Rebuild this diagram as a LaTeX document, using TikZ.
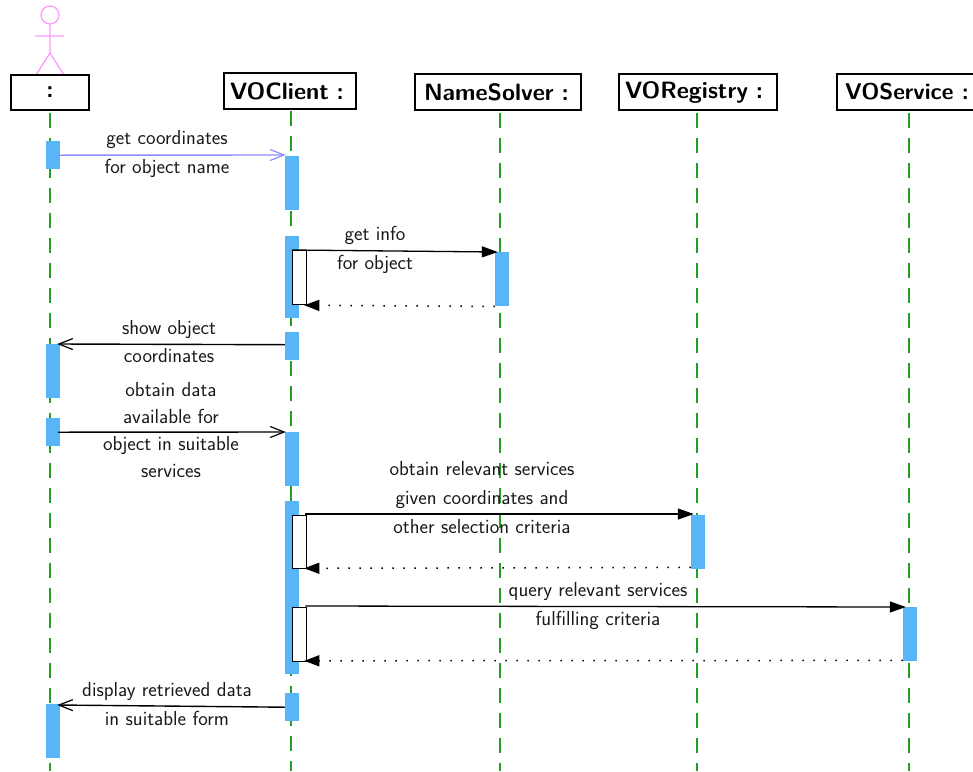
\documentclass[tikz,border=0pt]{standalone}
\usepackage{fontspec}
\setsansfont{Latin Modern Sans}
\usetikzlibrary{arrows.meta}
\definecolor{lifeg}{HTML}{22A022}
\definecolor{barb}{HTML}{58B6F8}
\definecolor{actorp}{HTML}{FF99FF}
\definecolor{msgb}{HTML}{8C8CFF}
\tikzset{
  x=1pt,y=-1pt,
  head/.style={draw=black,line width=1.2pt,fill=white,inner sep=0,font=\sffamily\bfseries\fontsize{23.6}{26}\selectfont,text=black},
  lifeline/.style={draw=lifeg,line width=1.2pt,dash pattern=on 15pt off 10pt},
  actbar/.style={fill=barb,draw=none,inner sep=0,minimum width=14pt,anchor=north},
  selfbar/.style={fill=white,draw=black,line width=1.3pt,inner sep=0,minimum width=14pt,anchor=north west},
  msg/.style={draw=black,line width=1.3pt,-{Triangle[length=16pt,width=11pt]},shorten >=-3pt},
  retmsg/.style={draw=black,line width=1.5pt,dash pattern=on 1.5pt off 9.5pt,-{Triangle[length=15pt,width=11pt]},shorten >=-3pt},
  openmsg/.style={line width=1.4pt,-{Straight Barb[length=14pt,width=11pt,line width=1.2pt]}},
  lab/.style={font=\sffamily\fontsize{20.3}{22}\selectfont,text=black!90,inner sep=0,text height=15pt,text depth=3pt}
}
\begin{document}
\begin{tikzpicture}
\useasboundingbox (0,0) rectangle (973,771);
% actor
\node[circle,draw=actorp,line width=1.3pt,minimum size=18pt,inner sep=0] (ahead) at (50,15) {};
\coordinate (aneck) at (50,53);
\coordinate (larm) at (35,36);
\coordinate (rarm) at (64,36);
\coordinate (lleg) at (36,75);
\coordinate (rleg) at (64,75);
\draw[actorp,line width=1.3pt] (ahead.south) -- (aneck) (larm) -- (rarm) (lleg) -- (aneck) -- (rleg);
% heads
\node[head,minimum width=78pt,minimum height=35pt] (hA) at (50,92.5) {:};
\node[head,minimum width=132pt,minimum height=36pt,text width=120pt,align=left] (hC) at (290,91) {VOClient :};
\node[head,minimum width=166pt,minimum height=36pt,text width=148pt,align=left] (hN) at (498,92) {NameSolver :};
\node[head,minimum width=158pt,minimum height=36pt,text width=146pt,align=left] (hR) at (698,92) {VORegistry :};
\node[head,minimum width=140pt,minimum height=36pt,font=\sffamily\bfseries\fontsize{22.8}{26}\selectfont] (hS) at (907,92) {VOService :};
% lifeline ends
\coordinate (eA) at (50,771);
\coordinate (eC) at (291,771);
\coordinate (eN) at (500,771);
\coordinate (eR) at (697,771);
\coordinate (eS) at (909,771);
\draw[lifeline] ([yshift=-2pt]hA.south) -- (eA);
\draw[lifeline] ([xshift=1pt,yshift=-1pt]hC.south) -- (eC);
\draw[lifeline] ([xshift=2pt,yshift=-2pt]hN.south) -- (eN);
\draw[lifeline] ([xshift=-1pt,yshift=-2pt]hR.south) -- (eR);
\draw[lifeline] ([xshift=2pt,yshift=-2pt]hS.south) -- (eS);
% activation bars
\node[actbar,minimum height=28pt] (a1) at (53,141) {};
\node[actbar,minimum height=54pt] (a2) at (53,344) {};
\node[actbar,minimum height=28pt] (a3) at (53,418) {};
\node[actbar,minimum height=54pt] (a4) at (53,704) {};
\node[actbar,minimum height=54pt] (c1) at (292,156) {};
\node[actbar,minimum height=82pt] (c2) at (292,236) {};
\node[actbar,minimum height=28pt] (c3) at (292,332) {};
\node[actbar,minimum height=54pt] (c4) at (292,432) {};
\node[actbar,minimum height=173pt] (c5) at (292,501) {};
\node[actbar,minimum height=28pt] (c6) at (292,693) {};
\node[actbar,minimum height=54pt] (n1) at (502,252) {};
\node[actbar,minimum height=54pt] (r1) at (698,515) {};
\node[actbar,minimum height=54pt] (s1) at (910,607) {};
% self bars
\node[selfbar,minimum height=54pt] (w1) at (292,250) {};
\node[selfbar,minimum height=53pt] (w2) at (292,515) {};
\node[selfbar,minimum height=54pt] (w3) at (292,607) {};
% messages
\draw[openmsg,draw=msgb,shorten <=-2pt] (a1.east) -- ([xshift=1pt,yshift=1pt]c1.north west);
\draw[msg] (w1.north west) -- (n1.north west);
\draw[retmsg] (n1.south west) -- (w1.south east);
\draw[openmsg,draw=black] ([yshift=1.5pt]c3.west) -- ([xshift=-3pt]a2.north east);
\draw[openmsg,draw=black,shorten <=-2pt] (a3.east) -- ([xshift=1pt]c4.north west);
\draw[msg] ([xshift=-2pt,yshift=1pt]w2.north east) -- ([yshift=1pt]r1.north west);
\draw[retmsg] ([yshift=2pt]r1.south west) -- ([yshift=1pt]w2.south east);
\draw[msg] ([xshift=-2pt,yshift=1pt]w3.north east) -- (s1.north west);
\draw[retmsg] ([yshift=1pt]s1.south west) -- ([yshift=1.5pt]w3.south east);
\draw[openmsg,draw=black] (c6.west) -- ([xshift=-3pt,yshift=-1pt]a4.north east);
% labels
\node[lab] (t1) at (167,138) {get coordinates};
\node[lab] (t2) at (167,167) {for object name};
\node[lab] (t3) at (375,234) {get info};
\node[lab] (t4) at (375,263) {for object};
\node[lab] (t5) at (169,328) {show object};
\node[lab] (t6) at (169,356) {coordinates};
\node[lab] (t7) at (171,390) {obtain data};
\node[lab] (t8) at (171,417) {available for};
\node[lab] (t9) at (171,444) {object in suitable};
\node[lab] (t10) at (171,471) {services};
\node[lab] (t11) at (482,469) {obtain relevant services};
\node[lab] (t12) at (482,498) {given coordinates and};
\node[lab] (t13) at (482,527) {other selection criteria};
\node[lab] (t14) at (598,590) {query relevant services};
\node[lab] (t15) at (598,619) {fulfilling criteria};
\node[lab] (t16) at (167,690) {display retrieved data};
\node[lab] (t17) at (167,719) {in suitable form};
\end{tikzpicture}
\end{document}
